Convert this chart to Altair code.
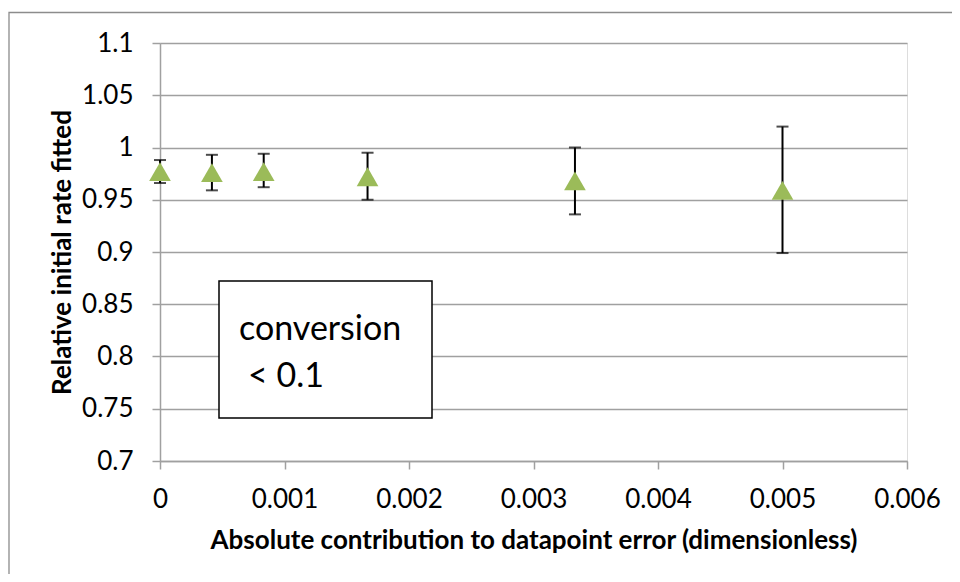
import altair as alt
import pandas as pd

# data
contrib = [0.0, 0.000417, 0.000833, 0.001667, 0.003333, 0.005]
rate = [0.977, 0.976, 0.977, 0.972, 0.968, 0.959]
rate_lo = [0.966, 0.959, 0.962, 0.950, 0.936, 0.899]
rate_hi = [0.988, 0.993, 0.994, 0.995, 1.000, 1.020]

y_ticks = [0.7, 0.75, 0.8, 0.85, 0.9, 0.95, 1.0, 1.05, 1.1]
x_ticks = [0.0, 0.001, 0.002, 0.003, 0.004, 0.005, 0.006]

note_lines = ["conversion", "< 0.1"]

df = pd.DataFrame({"x": contrib, "y": rate, "lo": rate_lo, "hi": rate_hi})

FONT = "Lato"
GRID = "#A0A0A0"
FS = 26

xscale = alt.Scale(domain=[0, 0.006], nice=False, zero=False)
yscale = alt.Scale(domain=[0.7, 1.1], nice=False, zero=False)

xaxis = alt.Axis(
    title="Absolute contribution to datapoint error (dimensionless)",
    values=x_ticks, format=".3~f", grid=False, labelFlush=False,
    domainColor=GRID, domainWidth=1.5, tickColor=GRID, tickWidth=1.5, tickSize=8,
    labelFont=FONT, labelFontSize=FS, labelColor="#000000", labelPadding=17,
    titleFont=FONT, titleFontSize=FS, titleFontWeight="bold", titleColor="#000000",
    titleBaseline="alphabetic", titleY=87,
)
yaxis = alt.Axis(
    title="Relative initial rate fitted",
    values=y_ticks, format=".2~f", grid=True, gridColor=GRID, gridWidth=1.5, labelFlush=False,
    domainColor=GRID, domainWidth=1.5, tickColor=GRID, tickWidth=1.5, tickSize=8,
    labelFont=FONT, labelFontSize=FS, labelColor="#000000", labelPadding=19,
    titleFont=FONT, titleFontSize=FS, titleFontWeight="bold", titleColor="#000000",
    titleBaseline="alphabetic", titleX=-90,
)

base = alt.Chart(df)

rules = base.mark_rule(color="#000000", strokeWidth=2).encode(
    x=alt.X("x:Q", scale=xscale, axis=xaxis),
    y=alt.Y("lo:Q", scale=yscale, axis=yaxis),
    y2="hi:Q",
)
cap_lo = base.mark_tick(color="#000000", orient="horizontal", size=12, thickness=2).encode(
    x=alt.X("x:Q", scale=xscale), y=alt.Y("lo:Q", scale=yscale)
)
cap_hi = base.mark_tick(color="#000000", orient="horizontal", size=12, thickness=2).encode(
    x=alt.X("x:Q", scale=xscale), y=alt.Y("hi:Q", scale=yscale)
)
points = base.mark_point(shape="triangle-up", filled=True, size=470, color="#9BBB59", opacity=1).encode(
    x=alt.X("x:Q", scale=xscale), y=alt.Y("y:Q", scale=yscale)
)

one = alt.Data(values=[{"k": 0}])

note_box = alt.Chart(one).mark_rect(fill="#FFFFFF", stroke="#000000", strokeWidth=1.5).encode(
    x=alt.value(59), x2=alt.value(272), y=alt.value(238), y2=alt.value(375)
)
note_t1 = alt.Chart(one).mark_text(
    text=note_lines[0], font=FONT, fontSize=34, align="left", baseline="alphabetic", color="#000000"
).encode(x=alt.value(79), y=alt.value(297))
note_t2 = alt.Chart(one).mark_text(
    text=note_lines[1], font=FONT, fontSize=34, align="left", baseline="alphabetic", color="#000000"
).encode(x=alt.value(88), y=alt.value(344))

frame = alt.Chart(one).mark_rect(fill=None, stroke="#8C8C8C", strokeWidth=1.3).encode(
    x=alt.value(-151), x2=alt.value(1000), y=alt.value(-30.5), y2=alt.value(700)
)

chart = alt.layer(frame, rules, cap_lo, cap_hi, points, note_box, note_t1, note_t2).properties(
    width=747, height=418,
    autosize=alt.AutoSizeParams(type="none"),
    padding={"left": 152, "top": 35, "right": 45, "bottom": 113},
).configure_view(stroke=None).configure(background="#FFFFFF")

chart.save("out.html", embed_options={"renderer": "svg", "actions": False})
